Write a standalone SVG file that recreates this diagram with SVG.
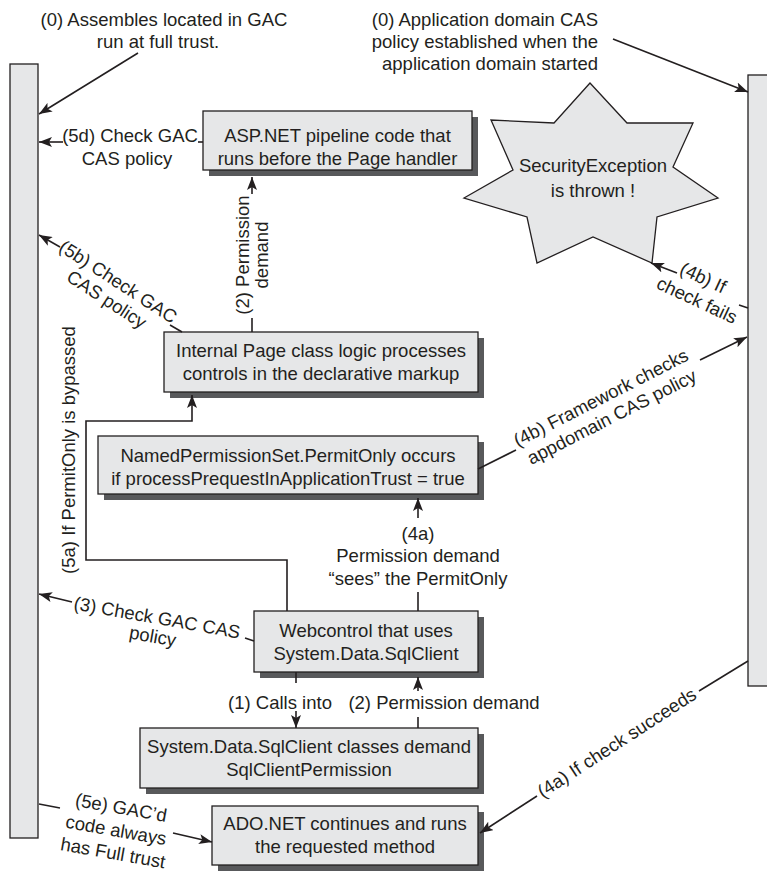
<svg xmlns="http://www.w3.org/2000/svg" width="767" height="872" viewBox="0 0 767 872">
<style>
.t{font-family:"Liberation Sans",Arial,sans-serif;font-size:18.5px;fill:#231f20}
.m{text-anchor:middle}
.e{text-anchor:end}
.box{fill:#e6e7e8;stroke:#231f20;stroke-width:1.3}
.sh{fill:#58595b}
.ln{fill:none;stroke:#231f20;stroke-width:1.6}
.ar{fill:none;stroke:#231f20;stroke-width:1.6;marker-end:url(#ah)}
</style>
<defs>
<marker id="ah" markerUnits="userSpaceOnUse" markerWidth="14" markerHeight="10" refX="13" refY="5" orient="auto">
<path d="M0,0 L13,5 L0,10 L3,5 z" fill="#231f20"/>
</marker>
</defs>
<rect width="767" height="872" fill="#ffffff"/>

<g id="leftbar"><rect class="box" x="10" y="64" width="28" height="774"/></g>
<g id="rightbar"><rect class="box" x="748" y="75" width="30" height="611"/></g>

<g id="note-gac">
<text class="t m" x="164" y="26">(0) Assembles located in GAC</text>
<text class="t m" x="158" y="48">run at full trust.</text>
</g>
<g id="note-appdomain">
<text class="t e" x="598" y="26">(0) Application domain CAS</text>
<text class="t e" x="598" y="48">policy established when the</text>
<text class="t e" x="598" y="70">application domain started</text>
</g>

<g id="asp">
<rect class="sh" x="209" y="117" width="269" height="59"/>
<rect class="box" x="203" y="111" width="269" height="59"/>
<text class="t m" x="337.5" y="142">ASP.NET pipeline code that</text>
<text class="t m" x="337.5" y="165">runs before the Page handler</text>
</g>

<g id="star">
<polygon class="box" points="590,83 554,123 491,120 513,170 464,198 527,217 537,263 593,237 652,263 657,217 718,198 673,167 693,123 627,123"/>
<text class="t m" x="593" y="172">SecurityException</text>
<text class="t m" x="593" y="197">is thrown !</text>
</g>

<g id="page">
<rect class="sh" x="170" y="338" width="314" height="60"/>
<rect class="box" x="164" y="332" width="314" height="60"/>
<text class="t m" x="321" y="357">Internal Page class logic processes</text>
<text class="t m" x="321" y="380">controls in the declarative markup</text>
</g>

<g id="named">
<rect class="sh" x="104" y="442" width="380" height="58"/>
<rect class="box" x="98" y="436" width="380" height="58"/>
<text class="t m" x="288" y="462">NamedPermissionSet.PermitOnly occurs</text>
<text class="t m" x="288" y="485">if processPrequestInApplicationTrust = true</text>
</g>

<g id="web">
<rect class="sh" x="260" y="617" width="224" height="61"/>
<rect class="box" x="254" y="611" width="224" height="61"/>
<text class="t m" x="366" y="637">Webcontrol that uses</text>
<text class="t m" x="366" y="660">System.Data.SqlClient</text>
</g>

<g id="sql">
<rect class="sh" x="146" y="734" width="338" height="60"/>
<rect class="box" x="140" y="728" width="338" height="60"/>
<text class="t m" x="309" y="753">System.Data.SqlClient classes demand</text>
<text class="t m" x="309" y="776">SqlClientPermission</text>
</g>

<g id="ado">
<rect class="sh" x="218" y="812" width="266" height="59"/>
<rect class="box" x="212" y="806" width="266" height="59"/>
<text class="t m" x="345" y="830">ADO.NET continues and runs</text>
<text class="t m" x="345" y="853">the requested method</text>
</g>

<g id="connectors">
<line class="ar" x1="138" y1="53" x2="39" y2="114"/>
<line class="ar" x1="613" y1="39" x2="748" y2="92"/>

<line class="ln" x1="203" y1="142" x2="198" y2="142"/>
<line class="ar" x1="63" y1="142" x2="39" y2="142"/>
<text class="t m" x="130" y="142">(5d) Check GAC</text>
<text class="t m" x="127" y="165">CAS policy</text>

<line class="ln" x1="252" y1="332" x2="252" y2="318"/>
<line class="ar" x1="252" y1="194" x2="252" y2="177"/>
<g transform="translate(252,255) rotate(-90)">
<text class="t m" x="0" y="-3">(2) Permission</text>
<text class="t m" x="0" y="16">demand</text>
</g>

<line class="ln" x1="182" y1="332" x2="170" y2="325"/>
<line class="ar" x1="60" y1="247" x2="39" y2="235"/>
<g transform="translate(118,282) rotate(33)">
<text class="t m" x="0" y="6">(5b) Check GAC</text>
<text class="t m" x="0" y="27">CAS policy</text>
</g>

<polyline class="ar" points="287,611 287,560 86,560 86,421 192,421 192,395"/>
<g transform="translate(75,450) rotate(-90)">
<text class="t m" x="0" y="0">(5a) If PermitOnly is bypassed</text>
</g>

<line class="ln" x1="254" y1="641" x2="245" y2="638"/>
<line class="ar" x1="72" y1="602" x2="39" y2="594"/>
<g transform="translate(157,618) rotate(10)">
<text class="t m" x="0" y="6">(3) Check GAC CAS</text>
<text class="t m" x="-1" y="25">policy</text>
</g>

<line class="ln" x1="418" y1="611" x2="418" y2="592"/>
<line class="ar" x1="418" y1="518" x2="418" y2="498"/>
<text class="t m" x="418" y="540">(4a)</text>
<text class="t m" x="418" y="562">Permission demand</text>
<text class="t m" x="418" y="585">“sees” the PermitOnly</text>

<line class="ln" x1="478" y1="469" x2="516" y2="450"/>
<line class="ar" x1="700" y1="360" x2="747" y2="337"/>
<g transform="translate(601,398) rotate(-27)">
<text class="t m" x="0" y="6">(4b) Framework checks</text>
<text class="t m" x="1" y="28">appdomain CAS policy</text>
</g>

<line class="ln" x1="748" y1="308" x2="739" y2="305"/>
<line class="ar" x1="677" y1="273" x2="651" y2="263"/>
<g transform="translate(703,278) rotate(25)">
<text class="t m" x="0" y="6">(4b) If</text>
<text class="t m" x="4" y="29">check fails</text>
</g>

<line class="ln" x1="748" y1="661" x2="699" y2="691"/>
<line class="ar" x1="537" y1="796" x2="480" y2="833"/>
<g transform="translate(617,743) rotate(-33)">
<text class="t m" x="0" y="6">(4a) If check succeeds</text>
</g>

<line class="ln" x1="296" y1="672" x2="296" y2="683"/>
<line class="ar" x1="296" y1="711" x2="296" y2="728"/>
<text class="t m" x="280" y="709">(1) Calls into</text>

<line class="ln" x1="418" y1="728" x2="418" y2="717"/>
<line class="ar" x1="418" y1="691" x2="418" y2="677"/>
<text class="t m" x="444" y="709">(2) Permission demand</text>

<line class="ln" x1="39" y1="804" x2="60" y2="808"/>
<line class="ar" x1="173" y1="833" x2="212" y2="842"/>
<g transform="translate(121,808) rotate(10)">
<text class="t m" x="0" y="6">(5e) GAC’d</text>
<text class="t m" x="-1" y="29">code always</text>
<text class="t m" x="0" y="52">has Full trust</text>
</g>
</g>
</svg>
